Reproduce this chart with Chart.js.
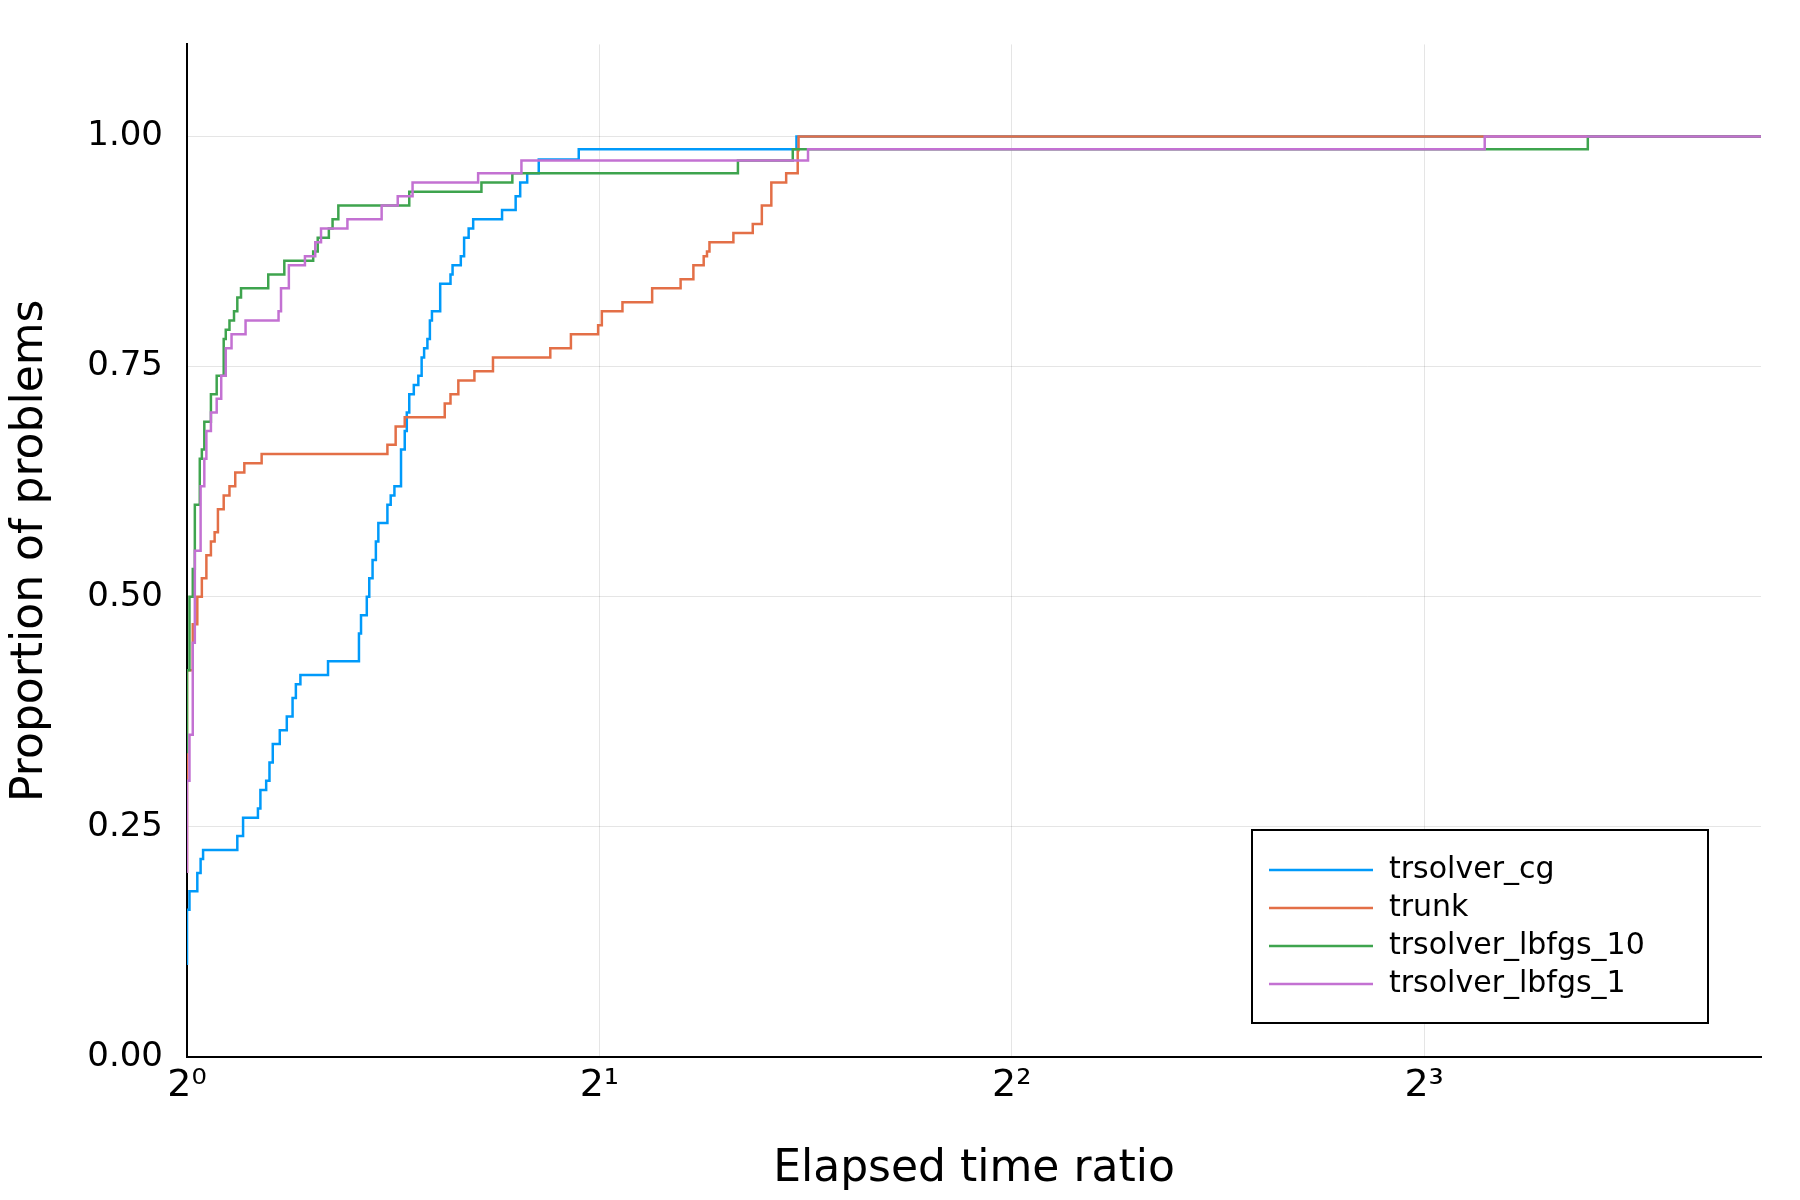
<!DOCTYPE html>
<html><head><meta charset="utf-8">
<script src="https://cdn.jsdelivr.net/npm/chart.js@4"></script>
<style>body{margin:0;background:#fff}#w{width:1800px;height:1200px}</style>
</head><body><div id="w"><canvas id="c"></canvas></div>
<script>
// x values are log2(elapsed time ratio)
const cgX=[0,0.006,0.025,0.033,0.039,0.122,0.136,0.172,0.178,0.192,0.2,0.208,0.225,0.242,0.256,0.264,0.275,0.342,0.417,0.422,0.436,0.442,0.45,0.458,0.464,0.486,0.494,0.503,0.519,0.528,0.533,0.539,0.55,0.561,0.569,0.575,0.583,0.589,0.594,0.614,0.639,0.644,0.664,0.672,0.683,0.694,0.764,0.797,0.808,0.825,0.853,0.95,1.478,3.144,3.82];
const cgY=[0.1,0.16,0.18,0.2,0.215,0.225,0.24,0.26,0.27,0.29,0.3,0.32,0.34,0.355,0.37,0.39,0.405,0.415,0.43,0.46,0.48,0.5,0.52,0.54,0.56,0.58,0.6,0.61,0.62,0.66,0.68,0.7,0.72,0.73,0.74,0.76,0.77,0.78,0.8,0.81,0.84,0.85,0.86,0.87,0.89,0.9,0.91,0.92,0.935,0.95,0.96,0.975,0.986,1.0,1.0];
const trunkX=[0,0.014,0.025,0.036,0.047,0.058,0.067,0.075,0.089,0.103,0.117,0.139,0.181,0.486,0.506,0.528,0.625,0.639,0.658,0.697,0.742,0.881,0.931,0.997,1.006,1.056,1.128,1.197,1.228,1.253,1.261,1.267,1.325,1.372,1.394,1.417,1.453,1.481,1.483,1.492,3.82];
const trunkY=[0.2,0.42,0.47,0.5,0.52,0.545,0.56,0.57,0.595,0.61,0.62,0.635,0.645,0.655,0.665,0.685,0.695,0.71,0.72,0.735,0.745,0.76,0.77,0.785,0.795,0.81,0.82,0.835,0.845,0.86,0.87,0.875,0.885,0.895,0.905,0.925,0.95,0.96,0.985,1.0,1.0];
const l10X=[0,0.006,0.014,0.019,0.031,0.036,0.042,0.058,0.072,0.089,0.094,0.103,0.114,0.122,0.131,0.197,0.236,0.306,0.317,0.344,0.353,0.367,0.539,0.714,0.789,1.336,1.469,3.397,3.464,3.82];
const l10Y=[0.33,0.42,0.5,0.53,0.6,0.65,0.66,0.69,0.72,0.74,0.78,0.79,0.8,0.81,0.825,0.835,0.85,0.865,0.875,0.89,0.9,0.91,0.925,0.94,0.95,0.96,0.974,0.986,1.0,1.0];
const l1X=[0,0.006,0.014,0.019,0.033,0.042,0.047,0.058,0.072,0.083,0.094,0.108,0.142,0.222,0.228,0.247,0.286,0.311,0.325,0.389,0.472,0.511,0.547,0.706,0.811,1.506,3.147,3.467,3.82];
const l1Y=[0.2,0.3,0.35,0.45,0.55,0.62,0.65,0.68,0.7,0.715,0.74,0.77,0.785,0.8,0.81,0.835,0.86,0.87,0.885,0.9,0.91,0.925,0.935,0.95,0.96,0.974,0.986,1.0,1.0];
const names=['trsolver_cg','trunk','trsolver_lbfgs_10','trsolver_lbfgs_1'];
const colors=['#009AFA','#E36F47','#3EA44E','#C371D2'];
const xTicks=[0,1,2,3], yTicks=[0,0.25,0.5,0.75,1.0];
const sup=['⁰','¹','²','³'];
const pts=(xs,ys)=>xs.map((x,i)=>({x,y:ys[i]}));
const series=[pts(cgX,cgY),pts(trunkX,trunkY),pts(l10X,l10Y),pts(l1X,l1Y)];
const legendPlugin={id:'lg',afterDraw(ch){const c=ch.ctx;c.save();
 c.fillStyle='#fff';c.fillRect(1252,830,456,193);c.strokeStyle='#000';c.lineWidth=2;c.strokeRect(1252,830,456,193);
 c.font='30px "DejaVu Sans"';c.textBaseline='middle';
 names.forEach((n,i)=>{const y=870+i*38;c.strokeStyle=colors[i];c.lineWidth=2.5;c.beginPath();c.moveTo(1269,y);c.lineTo(1373,y);c.stroke();c.fillStyle='#000';c.fillText(n,1389,y);});
 c.restore();}};
new Chart(document.getElementById('c'),{type:'line',
 data:{datasets:series.map((d,i)=>({label:names[i],data:d,borderColor:colors[i],borderWidth:2.5,pointRadius:0,stepped:'after',fill:false,order:4-i}))},
 options:{responsive:true,maintainAspectRatio:false,animation:false,
  layout:{padding:{top:34,right:39,left:0,bottom:0}},
  plugins:{legend:{display:false},tooltip:{enabled:false}},
  scales:{
   x:{type:'linear',min:0,max:3.817,afterBuildTicks:a=>{a.ticks=xTicks.map(v=>({value:v}))},afterFit:a=>{a.height=143},
    ticks:{callback:v=>'2'+sup[v],font:{size:38,family:'DejaVu Sans'},color:'#000',maxRotation:0,padding:6},
    grid:{color:'rgba(0,0,0,0.1)',drawTicks:false},border:{color:'#000',width:2},
    title:{display:true,text:'Elapsed time ratio',font:{size:44,family:'DejaVu Sans'},color:'#000',padding:{top:8}}},
   y:{min:0,max:1.1,afterBuildTicks:a=>{a.ticks=yTicks.map(v=>({value:v}))},afterFit:a=>{a.width=187},
    ticks:{callback:v=>v.toFixed(2),font:{size:34,family:'DejaVu Sans'},color:'#000',padding:24},
    grid:{color:'rgba(0,0,0,0.1)',drawTicks:false},border:{color:'#000',width:2},
    title:{display:true,text:'Proportion of problems',font:{size:44,family:'DejaVu Sans'},color:'#000',padding:{bottom:6}}}
  }},plugins:[legendPlugin]});
</script></body></html>
